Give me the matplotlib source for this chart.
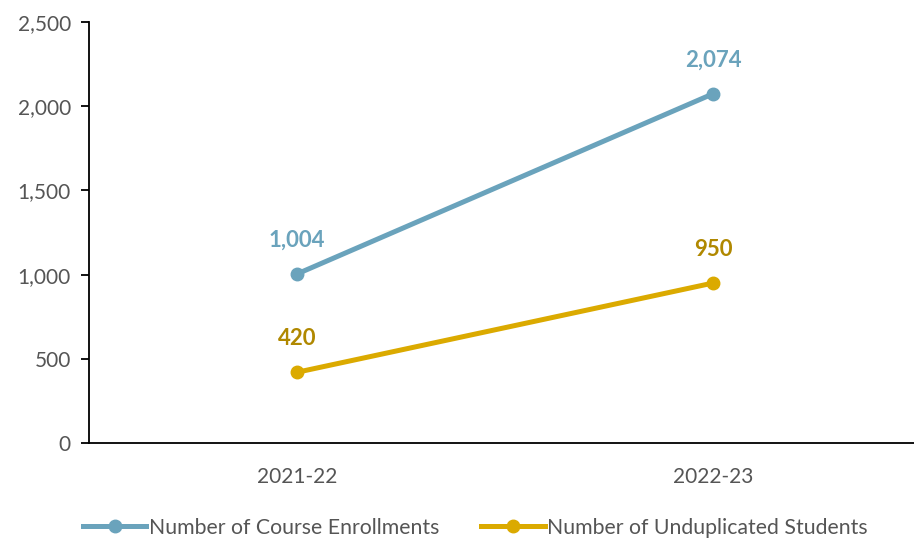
import matplotlib.pyplot as plt
from matplotlib.ticker import FuncFormatter

years = ["2021-22", "2022-23"]
enrollments = [1004, 2074]
students = [420, 950]

blue = "#6AA3BC"
gold = "#DBAA00"
gold_text = "#B08800"

plt.rcParams['font.family'] = ['Lato', 'DejaVu Sans']

fig = plt.figure(figsize=(9.14, 5.38), dpi=100)
ax = fig.add_axes([0.0974, 0.1766, 0.9026, 0.7824])

x = range(len(years))
ax.plot(x, enrollments, color=blue, lw=3.6, marker="o", ms=9, label="Number of Course Enrollments")
ax.plot(x, students, color=gold, lw=3.6, marker="o", ms=9, label="Number of Unduplicated Students")

for i, v in enumerate(enrollments):
    ax.annotate(f"{v:,}", (i, v), xytext=(0, 24), textcoords="offset points",
                ha="center", va="center", fontsize=16, fontweight="bold", color=blue)
for i, v in enumerate(students):
    ax.annotate(f"{v:,}", (i, v), xytext=(0, 24), textcoords="offset points",
                ha="center", va="center", fontsize=16, fontweight="bold", color=gold_text)

ax.set_xlim(-0.5, 1.483)
ax.set_ylim(0, 2500)
ax.set_yticks(range(0, 2501, 500))
ax.yaxis.set_major_formatter(FuncFormatter(lambda v, p: f"{int(v):,}"))
ax.set_xticks(list(x))
ax.set_xticklabels(years)

for s in ["top", "right"]:
    ax.spines[s].set_visible(False)
ax.spines["left"].set_linewidth(1.3)
ax.spines["bottom"].set_linewidth(1.3)
ax.tick_params(axis="y", length=6, width=1.3, labelsize=15, labelcolor="#555555", pad=7)
ax.tick_params(axis="x", length=0, labelsize=15, labelcolor="#555555", pad=17)

fig.legend(loc="lower center", bbox_to_anchor=(0.52, -0.035), ncol=2, frameon=False,
           fontsize=15.3, labelcolor="#555555", handlelength=3, handletextpad=0.1,
           columnspacing=2.0)

fig.savefig("out.png", dpi=100)
